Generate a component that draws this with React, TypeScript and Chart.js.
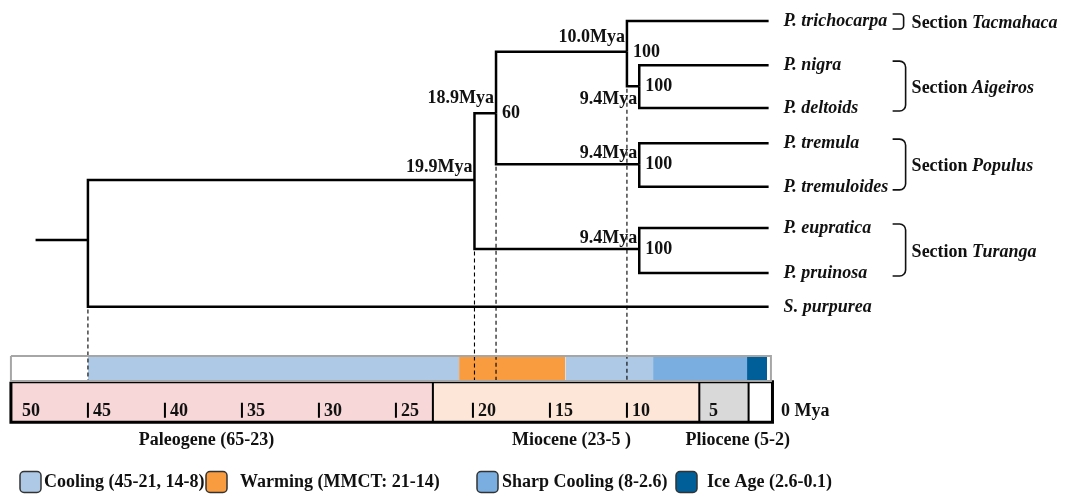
import React, { useEffect, useRef } from 'react';
import { Chart, registerables } from 'chart.js';
Chart.register(...registerables);

// ---------- DATA ----------
// Tips of the tree (top to bottom)
const tipNames = ['P. trichocarpa', 'P. nigra', 'P. deltoids', 'P. tremula', 'P. tremuloides', 'P. eupratica', 'P. pruinosa', 'S. purpurea'];
const tipRows = [0.49, 1.52, 2.52, 3.34, 4.36, 5.32, 6.37, 7.16];
const tipAge = 0.8; // Mya where the tip branches end

// Internal nodes
const nodeIds = ['R', 'N', 'S', 'T', 'A', 'P', 'U'];
const nodeAges = [45.0, 19.9, 18.5, 10.0, 9.2, 9.2, 9.2];
const nodeRows = [5.60, 4.20, 2.64, 1.21, 2.01, 3.83, 5.81];
const nodeChildren = [['N', 't7'], ['S', 'U'], ['T', 'P'], ['t0', 'A'], ['t1', 't2'], ['t3', 't4'], ['t5', 't6']];
const nodeAgeLabels = ['', '19.9Mya', '18.9Mya', '10.0Mya', '9.4Mya', '9.4Mya', '9.4Mya'];
const nodeAgeLabelRows = [0, 3.90, 2.29, 0.86, 2.31, 3.57, 5.55];
const nodeSupport = ['', '', '60', '100', '100', '100', '100'];
const rootStemAge = 48.4;
const dashedNodes = ['R', 'N', 'S', 'T'];

// Sections
const sectionNames = ['Tacmahaca', 'Aigeiros', 'Populus', 'Turanga'];
const sectionFirstTip = [0, 1, 3, 5];
const sectionLastTip = [0, 2, 4, 6];

// Climate periods (Mya)
const climateKinds = ['Cooling', 'Warming', 'Cooling', 'Sharp Cooling', 'Ice Age'];
const climateStart = [45, 20.9, 14.0, 8.3, 2.2];
const climateEnd = [20.9, 14.0, 8.3, 2.2, 0.9];
const climateStripStart = 50;
const climateStripEnd = 0.65;
const legendKinds = ['Cooling', 'Warming', 'Sharp Cooling', 'Ice Age'];
const legendLabels = ['Cooling (45-21, 14-8)', 'Warming (MMCT: 21-14)', 'Sharp Cooling (8-2.6)', 'Ice Age (2.6-0.1)'];

// Geological time scale (Mya)
const epochStart = [50, 22.6, 5.3, 2.1];
const epochEnd = [22.6, 5.3, 2.1, 0.55];
const epochNames = ['Paleogene (65-23)', 'Miocene (23-5 )', 'Pliocene (5-2)'];
const epochLabelAt = [37.3, 13.6, 2.8];
const tickMarks = [45, 40, 35, 30, 25, 20, 15, 10];
const tickLabels = [50, 45, 40, 35, 30, 25, 20, 15, 10, 5];
const zeroLabel = '0 Mya';

// ---------- LAYOUT / STYLE ----------
const L = {
  climateTop: 8.307, climateBottom: 8.89,
  timeTop: 8.91, timeBottom: 9.85,
  tickTop: 9.40, tickBottom: 9.75, tickLabelRow: 9.59,
  eraRow: 10.27,
  yMax: 11.55, xMin: -18.64, xMax: 50.19,
};
const climateColors: Record<string, string> = {
  'Cooling': '#adc9e5', 'Warming': '#f99b3f', 'Sharp Cooling': '#7aaee0', 'Ice Age': '#005f99',
};
const epochColors = ['#f7d7d7', '#fde6d7', '#d9d9d9', '#ffffff'];
const legendBoxX = [20, 206, 477, 676];
const legendTextGap = [24, 34, 25, 31];
const FONT = '"Liberation Serif", "Times New Roman", serif';
const TXT = '#111';

function buildDatasets() {
  const ds: any[] = [];
  const rect = (x0: number, x1: number, yTop: number, yBot: number, color: string, order: number) => ds.push({
    type: 'line', data: [{ x: x0, y: yTop }, { x: x1, y: yTop }], fill: { value: yBot },
    backgroundColor: color, borderColor: 'rgba(0,0,0,0)', borderWidth: 1, pointRadius: 0, order,
  });
  const poly = (pts: { x: number; y: number }[], color: string, width: number, order: number, dash?: number[]) => ds.push({
    type: 'line', data: pts, fill: false, borderColor: color, borderWidth: width, pointRadius: 0, order,
    borderDash: dash || [], borderJoinStyle: 'miter', borderCapStyle: 'butt',
  });

  // climate strip
  rect(climateStripStart, climateStripEnd, L.climateTop, L.climateBottom, '#ffffff', 20);
  climateKinds.forEach((k, i) => rect(climateStart[i], climateEnd[i], L.climateTop, L.climateBottom, climateColors[k], 19));
  // geological bar
  epochStart.forEach((s, i) => rect(s, epochEnd[i], L.timeTop, L.timeBottom, epochColors[i], 19));

  // node positions
  const pos: Record<string, { x: number; y: number }> = {};
  tipRows.forEach((r, i) => { pos['t' + i] = { x: tipAge, y: r }; });
  nodeIds.forEach((id, i) => { pos[id] = { x: nodeAges[i], y: nodeRows[i] }; });

  // dashed lines from nodes down to climate strip
  dashedNodes.forEach((id) => {
    const i = nodeIds.indexOf(id);
    const lowest = Math.max(...nodeChildren[i].map((c) => pos[c].y));
    poly([{ x: nodeAges[i], y: lowest + 0.06 }, { x: nodeAges[i], y: L.climateBottom }], '#000', 1.1, 10, [4, 3]);
  });

  // borders
  poly([
    { x: climateStripStart, y: L.climateTop }, { x: climateStripEnd, y: L.climateTop },
    { x: climateStripEnd, y: L.climateBottom }, { x: climateStripStart, y: L.climateBottom },
    { x: climateStripStart, y: L.climateTop },
  ], '#a6a6a6', 2, 8);
  poly([
    { x: epochStart[0], y: L.timeTop }, { x: epochEnd[3], y: L.timeTop },
    { x: epochEnd[3], y: L.timeBottom }, { x: epochStart[0], y: L.timeBottom },
    { x: epochStart[0], y: L.timeTop },
  ], '#000', 3, 8);
  epochEnd.slice(0, 3).forEach((b) => poly([{ x: b, y: L.timeTop }, { x: b, y: L.timeBottom }], '#000', 2, 9));
  tickMarks.forEach((t) => poly([{ x: t, y: L.tickTop }, { x: t, y: L.tickBottom }], '#000', 2, 9));

  // tree
  poly([{ x: rootStemAge, y: nodeRows[0] }, { x: nodeAges[0], y: nodeRows[0] }], '#000', 2.5, 1);
  nodeIds.forEach((id, i) => {
    nodeChildren[i].forEach((c) => {
      poly([{ x: nodeAges[i], y: nodeRows[i] }, { x: nodeAges[i], y: pos[c].y }, { x: pos[c].x, y: pos[c].y }], '#000', 2.5, 1);
    });
  });
  return ds;
}

function roundRect(ctx: CanvasRenderingContext2D, x: number, y: number, w: number, h: number, r: number) {
  ctx.beginPath();
  ctx.moveTo(x + r, y);
  ctx.arcTo(x + w, y, x + w, y + h, r);
  ctx.arcTo(x + w, y + h, x, y + h, r);
  ctx.arcTo(x, y + h, x, y, r);
  ctx.arcTo(x, y, x + w, y, r);
  ctx.closePath();
}

const textPlugin = {
  id: 'treeText',
  afterDatasetsDraw(chart: any) {
    const ctx: CanvasRenderingContext2D = chart.ctx;
    const xs = chart.scales.x, ys = chart.scales.y;
    const X = (v: number) => xs.getPixelForValue(v);
    const Y = (v: number) => ys.getPixelForValue(v);
    ctx.save();
    ctx.fillStyle = TXT;
    ctx.textBaseline = 'middle';
    const bold = `bold 18px ${FONT}`;
    const boldIt = `italic bold 18px ${FONT}`;

    // node ages & supports
    ctx.font = bold;
    nodeIds.forEach((id, i) => {
      if (nodeAgeLabels[i]) {
        ctx.textAlign = 'right';
        ctx.fillText(nodeAgeLabels[i], X(nodeAges[i]) - 2, Y(nodeAgeLabelRows[i]));
      }
      if (nodeSupport[i]) {
        ctx.textAlign = 'left';
        ctx.fillText(nodeSupport[i], X(nodeAges[i]) + 6, Y(nodeRows[i]));
      }
    });

    // tip labels
    ctx.font = boldIt;
    ctx.textAlign = 'left';
    tipNames.forEach((n, i) => ctx.fillText(n, X(tipAge) + 15, Y(tipRows[i])));

    // sections with brackets
    const bx0 = X(tipAge) + 124, bx1 = bx0 + 13;
    ctx.strokeStyle = '#111';
    ctx.lineWidth = 1.6;
    sectionNames.forEach((s, i) => {
      let top = Y(tipRows[sectionFirstTip[i]]) - 4;
      let bot = Y(tipRows[sectionLastTip[i]]) + 3;
      const single = sectionFirstTip[i] === sectionLastTip[i];
      if (single) { const c = (top + bot) / 2 + 1; top = c - 7.5; bot = c + 7.5; }
      const w = single ? 11 : 13;
      const r = single ? 3.5 : 6;
      ctx.beginPath();
      ctx.moveTo(bx0, top);
      ctx.arcTo(bx0 + w, top, bx0 + w, bot, r);
      ctx.arcTo(bx0 + w, bot, bx0, bot, r);
      ctx.lineTo(bx0, bot);
      ctx.stroke();
      const ty = (top + bot) / 2 + 2;
      ctx.font = bold;
      ctx.fillText('Section ', bx1 + 6, ty);
      const w1 = ctx.measureText('Section ').width;
      ctx.font = boldIt;
      ctx.fillText(s, bx1 + 6 + w1, ty);
    });

    // time scale labels
    ctx.font = bold;
    ctx.textAlign = 'left';
    tickLabels.forEach((t) => {
      const x = Math.max(X(t) + 5, X(epochStart[0]) + 11);
      ctx.fillText(String(t), x, Y(L.tickLabelRow));
    });
    ctx.fillText(zeroLabel, X(0), Y(L.tickLabelRow));
    ctx.textAlign = 'center';
    epochNames.forEach((n, i) => ctx.fillText(n, X(epochLabelAt[i]), Y(L.eraRow)));

    // legend
    const ly = chart.height - 13;
    legendKinds.forEach((k, i) => {
      const bx = legendBoxX[i];
      roundRect(ctx, bx, ly - 10.5, 21, 21, 4);
      ctx.fillStyle = climateColors[k];
      ctx.fill();
      ctx.strokeStyle = '#333';
      ctx.lineWidth = 1.5;
      ctx.stroke();
      ctx.fillStyle = TXT;
      ctx.textAlign = 'left';
      ctx.fillText(legendLabels[i], bx + legendTextGap[i], ly);
    });
    ctx.restore();
  },
};

export default function App() {
  const ref = useRef<HTMLCanvasElement>(null);
  useEffect(() => {
    document.body.style.margin = '0';
    const chart = new Chart(ref.current!, {
      type: 'line',
      data: { datasets: buildDatasets() },
      options: {
        animation: false,
        responsive: false,
        devicePixelRatio: 1,
        layout: { padding: { left: 8, right: 0, top: 0, bottom: 0 } },
        scales: {
          x: { type: 'linear', reverse: true, min: L.xMin, max: L.xMax, display: false },
          y: { type: 'linear', reverse: true, min: 0, max: L.yMax, display: false },
        },
        plugins: { legend: { display: false }, tooltip: { enabled: false } },
        events: [],
      } as any,
      plugins: [textPlugin],
    });
    return () => chart.destroy();
  }, []);
  return (
    <div style={{ width: 1068, height: 495 }}>
      <canvas ref={ref} width={1068} height={495} style={{ display: 'block' }} />
    </div>
  );
}
